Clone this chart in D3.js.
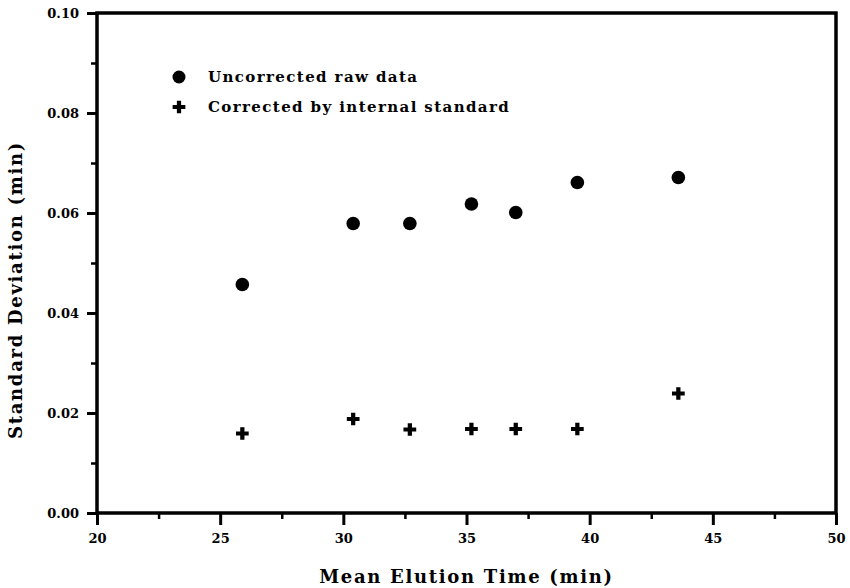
<!DOCTYPE html>
<html>
<head>
<meta charset="utf-8">
<script src="https://cdn.jsdelivr.net/npm/d3@7"></script>
<style>
  body { margin: 0; background: #fff; }
  svg text { font-family: "DejaVu Serif", "Liberation Serif", serif; font-weight: bold; fill: #000; }
  .axis path, .axis line { stroke: #000; }
</style>
</head>
<body>
<svg id="chart" width="850" height="588"></svg>
<script>
"use strict";

// data
var elutionTime = [25.9, 30.4, 32.7, 35.2, 37.0, 39.5, 43.6];
var uncorrected = [0.0457, 0.0579, 0.0579, 0.0618, 0.0601, 0.0661, 0.0671];
var corrected = [0.0159, 0.0188, 0.0167, 0.0168, 0.0168, 0.0168, 0.0239];
var xTicks = [20, 25, 30, 35, 40, 45, 50];
var xMinor = [22.5, 27.5, 32.5, 37.5, 42.5, 47.5];
var yTicks = [0, 0.02, 0.04, 0.06, 0.08, 0.10];
var yMinor = [0.01, 0.03, 0.05, 0.07, 0.09];
var legendLabels = ["Uncorrected raw data", "Corrected by internal standard"];

var svg = d3.select("#chart"),
	margin = { top: 13, right: 14, bottom: 75, left: 97 },
	width = +svg.attr("width") - margin.left - margin.right,
	height = +svg.attr("height") - margin.top - margin.bottom;

var x = d3.scaleLinear().domain([20, 50]).range([0, width]),
	y = d3.scaleLinear().domain([0, 0.10]).range([height, 0]);

var g = svg.append("g")
	.attr("transform", "translate(" + margin.left + "," + margin.top + ")");

// minor ticks
g.append("g")
	.attr("class", "axis")
	.attr("transform", "translate(0," + height + ")")
	.call(d3.axisBottom(x).tickValues(xMinor).tickSize(6).tickFormat(""))
	.call(function(s) { s.select(".domain").remove(); s.selectAll("line").attr("stroke-width", 2.5); });

g.append("g")
	.attr("class", "axis")
	.call(d3.axisLeft(y).tickValues(yMinor).tickSize(6).tickFormat(""))
	.call(function(s) { s.select(".domain").remove(); s.selectAll("line").attr("stroke-width", 2.5); });

// major ticks
var xAxis = g.append("g")
	.attr("class", "axis")
	.attr("transform", "translate(0," + height + ")")
	.call(d3.axisBottom(x).tickValues(xTicks).tickSize(12).tickPadding(9).tickFormat(d3.format("d")));
xAxis.select(".domain").remove();
xAxis.selectAll("line").attr("stroke-width", 3);
xAxis.selectAll("text").style("font-size", "13px");

var yAxis = g.append("g")
	.attr("class", "axis")
	.call(d3.axisLeft(y).tickValues(yTicks).tickSize(10).tickPadding(8).tickFormat(d3.format(".2f")));
yAxis.select(".domain").remove();
yAxis.selectAll("line").attr("stroke-width", 3);
yAxis.selectAll("text").style("font-size", "13px");

// frame
g.append("rect")
	.attr("x", 0)
	.attr("y", 0)
	.attr("width", width)
	.attr("height", height)
	.attr("fill", "none")
	.attr("stroke", "#000")
	.attr("stroke-width", 3.5);

// points
var pts = elutionTime.map(function(t, i) {
	return { t: t, u: uncorrected[i], c: corrected[i] };
});

g.selectAll("circle.raw")
	.data(pts)
	.enter().append("circle")
	.attr("class", "raw")
	.attr("cx", function(d) { return x(d.t); })
	.attr("cy", function(d) { return y(d.u); })
	.attr("r", 6.8)
	.attr("fill", "#000");

var cross = d3.symbol().type(d3.symbolCross).size(90);
g.selectAll("path.corr")
	.data(pts)
	.enter().append("path")
	.attr("class", "corr")
	.attr("d", cross)
	.attr("transform", function(d) { return "translate(" + x(d.t) + "," + y(d.c) + ")"; })
	.attr("fill", "#000");

// legend
var legend = g.append("g").attr("transform", "translate(82,64)");
legend.append("circle").attr("cx", 0).attr("cy", 0).attr("r", 6.5).attr("fill", "#000");
legend.append("path").attr("d", cross).attr("transform", "translate(0,30)").attr("fill", "#000");
legend.selectAll("text.leg")
	.data(legendLabels)
	.enter().append("text")
	.attr("class", "leg")
	.attr("x", 29)
	.attr("y", function(d, i) { return i * 30; })
	.attr("dy", "0.35em")
	.style("font-size", "15px")
	.style("letter-spacing", "1.4px")
	.text(function(d) { return d; });

// axis titles
svg.append("text")
	.attr("x", margin.left + width / 2)
	.attr("y", 583)
	.attr("text-anchor", "middle")
	.style("font-size", "18px")
	.style("letter-spacing", "1.7px")
	.text("Mean Elution Time (min)");

svg.append("text")
	.attr("transform", "translate(22," + 290 + ") rotate(-90)")
	.attr("text-anchor", "middle")
	.style("font-size", "18px")
	.style("letter-spacing", "1.7px")
	.text("Standard Deviation (min)");
</script>
</body>
</html>
